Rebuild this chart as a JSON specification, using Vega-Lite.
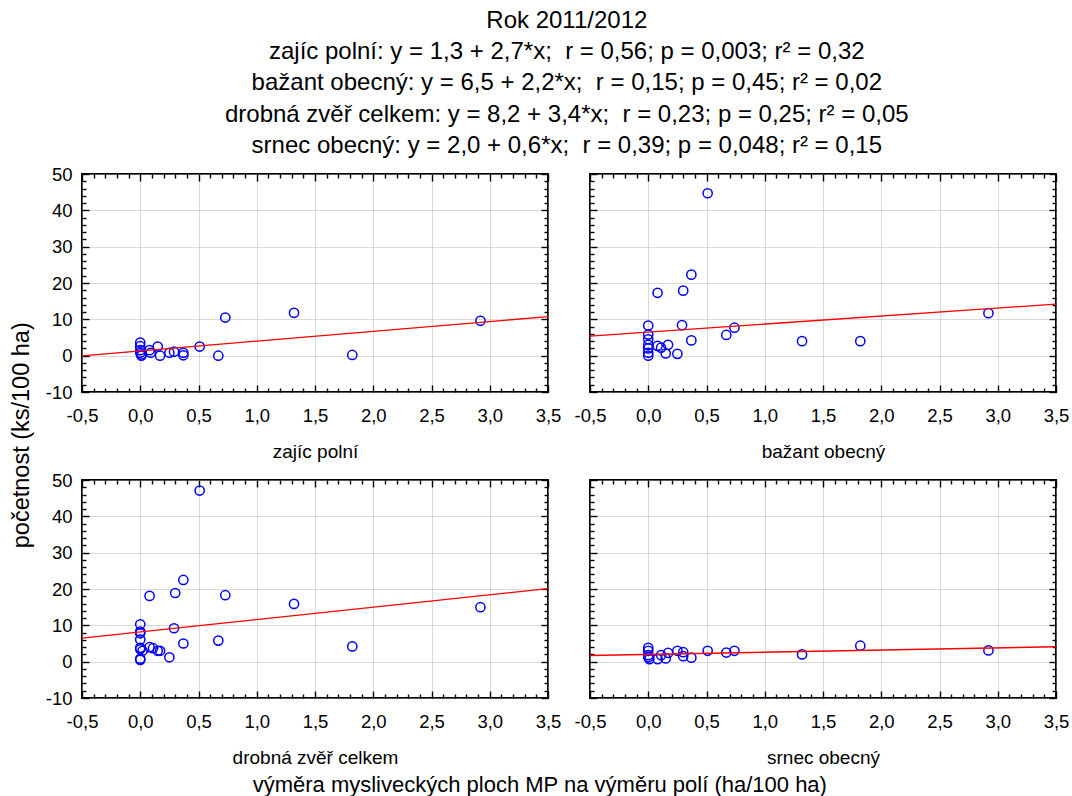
{
  "$schema": "https://vega.github.io/schema/vega-lite/v6.json",
  "padding": {"left": 9, "top": 8, "right": 10, "bottom": 0},
  "config": {
    "font": "Liberation Sans",
    "view": {"stroke": "#000000", "strokeWidth": 2},
    "axis": {"labelFontSize": 18.5, "labelColor": "#000000", "titleFontSize": 19, "titleFontWeight": "normal", "titleColor": "#000000", "tickColor": "#000000", "tickWidth": 1.4, "domain": false, "gridColor": "#b4b4b4", "gridDash": [1, 1], "gridWidth": 1, "labelFlush": false, "labelOverlap": false, "labelFont": "Liberation Sans", "titleFont": "Liberation Sans"},
    "title": {"color": "#000000", "fontWeight": "normal", "font": "Liberation Sans"}
  },
  "datasets": {
    "pts": [
      {"panel": "zajíc polní", "x": 0, "y": 3.6}, {"panel": "zajíc polní", "x": 0, "y": 2.6}, {"panel": "zajíc polní", "x": 0, "y": 1.5}, {"panel": "zajíc polní", "x": 0, "y": 0.8}, {"panel": "zajíc polní", "x": 0.01, "y": 0.3}, {"panel": "zajíc polní", "x": 0.01, "y": 0}, {"panel": "zajíc polní", "x": 0.08, "y": 1.5}, {"panel": "zajíc polní", "x": 0.09, "y": 0.8}, {"panel": "zajíc polní", "x": 0.15, "y": 2.5}, {"panel": "zajíc polní", "x": 0.17, "y": 0}, {"panel": "zajíc polní", "x": 0.25, "y": 0.8}, {"panel": "zajíc polní", "x": 0.29, "y": 1.1}, {"panel": "zajíc polní", "x": 0.37, "y": 0.8}, {"panel": "zajíc polní", "x": 0.37, "y": 0.1}, {"panel": "zajíc polní", "x": 0.51, "y": 2.5}, {"panel": "zajíc polní", "x": 0.67, "y": 0}, {"panel": "zajíc polní", "x": 0.73, "y": 10.5}, {"panel": "zajíc polní", "x": 1.32, "y": 11.8}, {"panel": "zajíc polní", "x": 1.82, "y": 0.2}, {"panel": "zajíc polní", "x": 2.92, "y": 9.6},
      {"panel": "bažant obecný", "x": 0.51, "y": 44.7}, {"panel": "bažant obecný", "x": 0.37, "y": 22.3}, {"panel": "bažant obecný", "x": 0.3, "y": 17.9}, {"panel": "bažant obecný", "x": 0.08, "y": 17.3}, {"panel": "bažant obecný", "x": 0, "y": 8.3}, {"panel": "bažant obecný", "x": 0.29, "y": 8.4}, {"panel": "bažant obecný", "x": 0, "y": 5.8}, {"panel": "bažant obecný", "x": 0, "y": 4.5}, {"panel": "bažant obecný", "x": 0, "y": 3.0}, {"panel": "bažant obecný", "x": 0, "y": 2.0}, {"panel": "bažant obecný", "x": 0, "y": 0.8}, {"panel": "bažant obecný", "x": 0, "y": 0}, {"panel": "bažant obecný", "x": 0.08, "y": 2.7}, {"panel": "bažant obecný", "x": 0.11, "y": 2.2}, {"panel": "bažant obecný", "x": 0.17, "y": 3.0}, {"panel": "bažant obecný", "x": 0.15, "y": 0.6}, {"panel": "bažant obecný", "x": 0.25, "y": 0.5}, {"panel": "bažant obecný", "x": 0.37, "y": 4.2}, {"panel": "bažant obecný", "x": 0.67, "y": 5.7}, {"panel": "bažant obecný", "x": 0.74, "y": 7.7}, {"panel": "bažant obecný", "x": 1.32, "y": 4.0}, {"panel": "bažant obecný", "x": 1.82, "y": 4.0}, {"panel": "bažant obecný", "x": 2.92, "y": 11.7},
      {"panel": "drobná zvěř celkem", "x": 0.51, "y": 47.1}, {"panel": "drobná zvěř celkem", "x": 0.37, "y": 22.5}, {"panel": "drobná zvěř celkem", "x": 0.3, "y": 18.9}, {"panel": "drobná zvěř celkem", "x": 0.08, "y": 18.1}, {"panel": "drobná zvěř celkem", "x": 0.73, "y": 18.3}, {"panel": "drobná zvěř celkem", "x": 1.32, "y": 15.9}, {"panel": "drobná zvěř celkem", "x": 2.92, "y": 15.0}, {"panel": "drobná zvěř celkem", "x": 0, "y": 10.3}, {"panel": "drobná zvěř celkem", "x": 0, "y": 8.3}, {"panel": "drobná zvěř celkem", "x": 0, "y": 7.8}, {"panel": "drobná zvěř celkem", "x": 0, "y": 6.1}, {"panel": "drobná zvěř celkem", "x": 0, "y": 3.8}, {"panel": "drobná zvěř celkem", "x": 0, "y": 3.4}, {"panel": "drobná zvěř celkem", "x": 0.02, "y": 3.0}, {"panel": "drobná zvěř celkem", "x": 0, "y": 0.8}, {"panel": "drobná zvěř celkem", "x": 0, "y": 0.5}, {"panel": "drobná zvěř celkem", "x": 0.29, "y": 9.2}, {"panel": "drobná zvěř celkem", "x": 0.37, "y": 5.0}, {"panel": "drobná zvěř celkem", "x": 0.67, "y": 5.8}, {"panel": "drobná zvěř celkem", "x": 1.82, "y": 4.2}, {"panel": "drobná zvěř celkem", "x": 0.08, "y": 4.0}, {"panel": "drobná zvěř celkem", "x": 0.11, "y": 3.7}, {"panel": "drobná zvěř celkem", "x": 0.15, "y": 3.0}, {"panel": "drobná zvěř celkem", "x": 0.17, "y": 3.0}, {"panel": "drobná zvěř celkem", "x": 0.25, "y": 1.2},
      {"panel": "srnec obecný", "x": 0, "y": 3.8}, {"panel": "srnec obecný", "x": 0, "y": 3.0}, {"panel": "srnec obecný", "x": 0, "y": 1.8}, {"panel": "srnec obecný", "x": 0, "y": 1.2}, {"panel": "srnec obecný", "x": 0.01, "y": 0.7}, {"panel": "srnec obecný", "x": 0.08, "y": 0.7}, {"panel": "srnec obecný", "x": 0.11, "y": 1.8}, {"panel": "srnec obecný", "x": 0.15, "y": 0.9}, {"panel": "srnec obecný", "x": 0.17, "y": 2.4}, {"panel": "srnec obecný", "x": 0.25, "y": 3.0}, {"panel": "srnec obecný", "x": 0.3, "y": 2.6}, {"panel": "srnec obecný", "x": 0.3, "y": 1.5}, {"panel": "srnec obecný", "x": 0.37, "y": 1.1}, {"panel": "srnec obecný", "x": 0.51, "y": 3.0}, {"panel": "srnec obecný", "x": 0.67, "y": 2.5}, {"panel": "srnec obecný", "x": 0.74, "y": 3.0}, {"panel": "srnec obecný", "x": 1.32, "y": 2.0}, {"panel": "srnec obecný", "x": 1.82, "y": 4.4}, {"panel": "srnec obecný", "x": 2.92, "y": 3.1}
    ],
    "fit": [
      {"panel": "zajíc polní", "x": -0.5, "y": -0.05}, {"panel": "zajíc polní", "x": 3.5, "y": 10.75},
      {"panel": "bažant obecný", "x": -0.5, "y": 5.4}, {"panel": "bažant obecný", "x": 3.5, "y": 14.2},
      {"panel": "drobná zvěř celkem", "x": -0.5, "y": 6.5}, {"panel": "drobná zvěř celkem", "x": 3.5, "y": 20.1},
      {"panel": "srnec obecný", "x": -0.5, "y": 1.7}, {"panel": "srnec obecný", "x": 3.5, "y": 4.1}
    ]
  },
  "title": {
    "text": ["Rok 2011/2012", "zajíc polní: y = 1,3 + 2,7*x;\u00a0 r = 0,56; p = 0,003; r² = 0,32", "bažant obecný: y = 6,5 + 2,2*x;\u00a0 r = 0,15; p = 0,45; r² = 0,02", "drobná zvěř celkem: y = 8,2 + 3,4*x;\u00a0 r = 0,23; p = 0,25; r² = 0,05", "srnec obecný: y = 2,0 + 0,6*x;\u00a0 r = 0,39; p = 0,048; r² = 0,15"],
    "fontSize": 24, "lineHeight": 31.3, "anchor": "middle", "offset": 6, "dx": 27
  },
  "vconcat": [
    {
      "title": {"text": "výměra mysliveckých ploch MP na výměru polí (ha/100 ha)", "orient": "bottom", "anchor": "middle", "fontSize": 22, "offset": 6},
      "vconcat": [
        {
          "title": {"text": "početnost (ks/100 ha)", "orient": "left", "anchor": "middle", "fontSize": 23.5, "offset": 11, "dx": 31},
          "bounds": "flush",
          "columns": 2,
          "spacing": {"row": 88, "column": 42},
          "concat": [
            {
              "width": 466, "height": 218,
              "resolve": {"axis": {"x": "independent", "y": "independent"}},
              "layer": [
                {
                  "data": {"name": "pts"},
                  "transform": [{"filter": "datum.panel === 'zajíc polní'"}],
                  "mark": {"type": "point", "shape": "circle", "filled": false, "color": "#0000ff", "strokeWidth": 1.5, "size": 85, "opacity": 1},
                  "encoding": {
                    "x": {"field": "x", "type": "quantitative", "scale": {"domain": [-0.5, 3.5], "nice": false, "zero": false},
                      "axis": {"orient": "bottom", "values": [-0.5,-0.4,-0.3,-0.2,-0.1,0,0.1,0.2,0.3,0.4,0.5,0.6,0.7,0.8,0.9,1,1.1,1.2,1.3,1.4,1.5,1.6,1.7,1.8,1.9,2,2.1,2.2,2.3,2.4,2.5,2.6,2.7,2.8,2.9,3,3.1,3.2,3.3,3.4,3.5], "title": "zajíc polní", "titlePadding": 15, "labelPadding": 21,
                        "labelExpr": "abs(datum.value*2-round(datum.value*2))<0.01 ? replace(replace(format(datum.value,'.1f'),'.',','),'−','-') : ''",
                        "grid": true, "gridOpacity": {"condition": {"test": "abs(datum.value*2-round(datum.value*2))<0.01", "value": 1}, "value": 0},
                        "tickSize": {"condition": {"test": "abs(datum.value*2-round(datum.value*2))<0.01", "value": -7}, "value": -4}}},
                    "y": {"field": "y", "type": "quantitative", "scale": {"domain": [-10, 50], "nice": false, "zero": false},
                      "axis": {"orient": "left", "values": [-10,-8,-6,-4,-2,0,2,4,6,8,10,12,14,16,18,20,22,24,26,28,30,32,34,36,38,40,42,44,46,48,50], "title": null, "labelPadding": 17,
                        "labelExpr": "abs(datum.value/10-round(datum.value/10))<0.01 ? ''+datum.value : ''",
                        "grid": true, "gridOpacity": {"condition": {"test": "abs(datum.value/10-round(datum.value/10))<0.01", "value": 1}, "value": 0},
                        "tickSize": {"condition": {"test": "abs(datum.value/10-round(datum.value/10))<0.01", "value": -7}, "value": -4}}}
                  }
                },
                {
                  "data": {"name": "fit"},
                  "transform": [{"filter": "datum.panel === 'zajíc polní'"}],
                  "mark": {"type": "line", "color": "#ff0000", "strokeWidth": 1.3},
                  "encoding": {
                    "x": {"field": "x", "type": "quantitative", "axis": {"orient": "top", "values": [-0.5,-0.4,-0.3,-0.2,-0.1,0,0.1,0.2,0.3,0.4,0.5,0.6,0.7,0.8,0.9,1,1.1,1.2,1.3,1.4,1.5,1.6,1.7,1.8,1.9,2,2.1,2.2,2.3,2.4,2.5,2.6,2.7,2.8,2.9,3,3.1,3.2,3.3,3.4,3.5], "title": null, "labels": false, "grid": false,
                      "tickSize": {"condition": {"test": "abs(datum.value*2-round(datum.value*2))<0.01", "value": -7}, "value": -4}}},
                    "y": {"field": "y", "type": "quantitative", "axis": {"orient": "right", "values": [-10,-8,-6,-4,-2,0,2,4,6,8,10,12,14,16,18,20,22,24,26,28,30,32,34,36,38,40,42,44,46,48,50], "title": null, "labels": false, "grid": false,
                      "tickSize": {"condition": {"test": "abs(datum.value/10-round(datum.value/10))<0.01", "value": -7}, "value": -4}}}
                  }
                }
              ]
            },
            {
              "width": 466, "height": 218,
              "resolve": {"axis": {"x": "independent", "y": "independent"}},
              "layer": [
                {
                  "data": {"name": "pts"},
                  "transform": [{"filter": "datum.panel === 'bažant obecný'"}],
                  "mark": {"type": "point", "shape": "circle", "filled": false, "color": "#0000ff", "strokeWidth": 1.5, "size": 85, "opacity": 1},
                  "encoding": {
                    "x": {"field": "x", "type": "quantitative", "scale": {"domain": [-0.5, 3.5], "nice": false, "zero": false},
                      "axis": {"orient": "bottom", "values": [-0.5,-0.4,-0.3,-0.2,-0.1,0,0.1,0.2,0.3,0.4,0.5,0.6,0.7,0.8,0.9,1,1.1,1.2,1.3,1.4,1.5,1.6,1.7,1.8,1.9,2,2.1,2.2,2.3,2.4,2.5,2.6,2.7,2.8,2.9,3,3.1,3.2,3.3,3.4,3.5], "title": "bažant obecný", "titlePadding": 15, "labelPadding": 21,
                        "labelExpr": "abs(datum.value*2-round(datum.value*2))<0.01 ? replace(replace(format(datum.value,'.1f'),'.',','),'−','-') : ''",
                        "grid": true, "gridOpacity": {"condition": {"test": "abs(datum.value*2-round(datum.value*2))<0.01", "value": 1}, "value": 0},
                        "tickSize": {"condition": {"test": "abs(datum.value*2-round(datum.value*2))<0.01", "value": -7}, "value": -4}}},
                    "y": {"field": "y", "type": "quantitative", "scale": {"domain": [-10, 50], "nice": false, "zero": false},
                      "axis": {"orient": "left", "values": [-10,-8,-6,-4,-2,0,2,4,6,8,10,12,14,16,18,20,22,24,26,28,30,32,34,36,38,40,42,44,46,48,50], "title": null, "labels": false,
                        "grid": true, "gridOpacity": {"condition": {"test": "abs(datum.value/10-round(datum.value/10))<0.01", "value": 1}, "value": 0},
                        "tickSize": {"condition": {"test": "abs(datum.value/10-round(datum.value/10))<0.01", "value": -7}, "value": -4}}}
                  }
                },
                {
                  "data": {"name": "fit"},
                  "transform": [{"filter": "datum.panel === 'bažant obecný'"}],
                  "mark": {"type": "line", "color": "#ff0000", "strokeWidth": 1.3},
                  "encoding": {
                    "x": {"field": "x", "type": "quantitative", "axis": {"orient": "top", "values": [-0.5,-0.4,-0.3,-0.2,-0.1,0,0.1,0.2,0.3,0.4,0.5,0.6,0.7,0.8,0.9,1,1.1,1.2,1.3,1.4,1.5,1.6,1.7,1.8,1.9,2,2.1,2.2,2.3,2.4,2.5,2.6,2.7,2.8,2.9,3,3.1,3.2,3.3,3.4,3.5], "title": null, "labels": false, "grid": false,
                      "tickSize": {"condition": {"test": "abs(datum.value*2-round(datum.value*2))<0.01", "value": -7}, "value": -4}}},
                    "y": {"field": "y", "type": "quantitative", "axis": {"orient": "right", "values": [-10,-8,-6,-4,-2,0,2,4,6,8,10,12,14,16,18,20,22,24,26,28,30,32,34,36,38,40,42,44,46,48,50], "title": null, "labels": false, "grid": false,
                      "tickSize": {"condition": {"test": "abs(datum.value/10-round(datum.value/10))<0.01", "value": -7}, "value": -4}}}
                  }
                }
              ]
            },
            {
              "width": 466, "height": 218,
              "resolve": {"axis": {"x": "independent", "y": "independent"}},
              "layer": [
                {
                  "data": {"name": "pts"},
                  "transform": [{"filter": "datum.panel === 'drobná zvěř celkem'"}],
                  "mark": {"type": "point", "shape": "circle", "filled": false, "color": "#0000ff", "strokeWidth": 1.5, "size": 85, "opacity": 1},
                  "encoding": {
                    "x": {"field": "x", "type": "quantitative", "scale": {"domain": [-0.5, 3.5], "nice": false, "zero": false},
                      "axis": {"orient": "bottom", "values": [-0.5,-0.4,-0.3,-0.2,-0.1,0,0.1,0.2,0.3,0.4,0.5,0.6,0.7,0.8,0.9,1,1.1,1.2,1.3,1.4,1.5,1.6,1.7,1.8,1.9,2,2.1,2.2,2.3,2.4,2.5,2.6,2.7,2.8,2.9,3,3.1,3.2,3.3,3.4,3.5], "title": "drobná zvěř celkem", "titlePadding": 15, "labelPadding": 21,
                        "labelExpr": "abs(datum.value*2-round(datum.value*2))<0.01 ? replace(replace(format(datum.value,'.1f'),'.',','),'−','-') : ''",
                        "grid": true, "gridOpacity": {"condition": {"test": "abs(datum.value*2-round(datum.value*2))<0.01", "value": 1}, "value": 0},
                        "tickSize": {"condition": {"test": "abs(datum.value*2-round(datum.value*2))<0.01", "value": -7}, "value": -4}}},
                    "y": {"field": "y", "type": "quantitative", "scale": {"domain": [-10, 50], "nice": false, "zero": false},
                      "axis": {"orient": "left", "values": [-10,-8,-6,-4,-2,0,2,4,6,8,10,12,14,16,18,20,22,24,26,28,30,32,34,36,38,40,42,44,46,48,50], "title": null, "labelPadding": 17,
                        "labelExpr": "abs(datum.value/10-round(datum.value/10))<0.01 ? ''+datum.value : ''",
                        "grid": true, "gridOpacity": {"condition": {"test": "abs(datum.value/10-round(datum.value/10))<0.01", "value": 1}, "value": 0},
                        "tickSize": {"condition": {"test": "abs(datum.value/10-round(datum.value/10))<0.01", "value": -7}, "value": -4}}}
                  }
                },
                {
                  "data": {"name": "fit"},
                  "transform": [{"filter": "datum.panel === 'drobná zvěř celkem'"}],
                  "mark": {"type": "line", "color": "#ff0000", "strokeWidth": 1.3},
                  "encoding": {
                    "x": {"field": "x", "type": "quantitative", "axis": {"orient": "top", "values": [-0.5,-0.4,-0.3,-0.2,-0.1,0,0.1,0.2,0.3,0.4,0.5,0.6,0.7,0.8,0.9,1,1.1,1.2,1.3,1.4,1.5,1.6,1.7,1.8,1.9,2,2.1,2.2,2.3,2.4,2.5,2.6,2.7,2.8,2.9,3,3.1,3.2,3.3,3.4,3.5], "title": null, "labels": false, "grid": false,
                      "tickSize": {"condition": {"test": "abs(datum.value*2-round(datum.value*2))<0.01", "value": -7}, "value": -4}}},
                    "y": {"field": "y", "type": "quantitative", "axis": {"orient": "right", "values": [-10,-8,-6,-4,-2,0,2,4,6,8,10,12,14,16,18,20,22,24,26,28,30,32,34,36,38,40,42,44,46,48,50], "title": null, "labels": false, "grid": false,
                      "tickSize": {"condition": {"test": "abs(datum.value/10-round(datum.value/10))<0.01", "value": -7}, "value": -4}}}
                  }
                }
              ]
            },
            {
              "width": 466, "height": 218,
              "resolve": {"axis": {"x": "independent", "y": "independent"}},
              "layer": [
                {
                  "data": {"name": "pts"},
                  "transform": [{"filter": "datum.panel === 'srnec obecný'"}],
                  "mark": {"type": "point", "shape": "circle", "filled": false, "color": "#0000ff", "strokeWidth": 1.5, "size": 85, "opacity": 1},
                  "encoding": {
                    "x": {"field": "x", "type": "quantitative", "scale": {"domain": [-0.5, 3.5], "nice": false, "zero": false},
                      "axis": {"orient": "bottom", "values": [-0.5,-0.4,-0.3,-0.2,-0.1,0,0.1,0.2,0.3,0.4,0.5,0.6,0.7,0.8,0.9,1,1.1,1.2,1.3,1.4,1.5,1.6,1.7,1.8,1.9,2,2.1,2.2,2.3,2.4,2.5,2.6,2.7,2.8,2.9,3,3.1,3.2,3.3,3.4,3.5], "title": "srnec obecný", "titlePadding": 15, "labelPadding": 21,
                        "labelExpr": "abs(datum.value*2-round(datum.value*2))<0.01 ? replace(replace(format(datum.value,'.1f'),'.',','),'−','-') : ''",
                        "grid": true, "gridOpacity": {"condition": {"test": "abs(datum.value*2-round(datum.value*2))<0.01", "value": 1}, "value": 0},
                        "tickSize": {"condition": {"test": "abs(datum.value*2-round(datum.value*2))<0.01", "value": -7}, "value": -4}}},
                    "y": {"field": "y", "type": "quantitative", "scale": {"domain": [-10, 50], "nice": false, "zero": false},
                      "axis": {"orient": "left", "values": [-10,-8,-6,-4,-2,0,2,4,6,8,10,12,14,16,18,20,22,24,26,28,30,32,34,36,38,40,42,44,46,48,50], "title": null, "labels": false,
                        "grid": true, "gridOpacity": {"condition": {"test": "abs(datum.value/10-round(datum.value/10))<0.01", "value": 1}, "value": 0},
                        "tickSize": {"condition": {"test": "abs(datum.value/10-round(datum.value/10))<0.01", "value": -7}, "value": -4}}}
                  }
                },
                {
                  "data": {"name": "fit"},
                  "transform": [{"filter": "datum.panel === 'srnec obecný'"}],
                  "mark": {"type": "line", "color": "#ff0000", "strokeWidth": 1.3},
                  "encoding": {
                    "x": {"field": "x", "type": "quantitative", "axis": {"orient": "top", "values": [-0.5,-0.4,-0.3,-0.2,-0.1,0,0.1,0.2,0.3,0.4,0.5,0.6,0.7,0.8,0.9,1,1.1,1.2,1.3,1.4,1.5,1.6,1.7,1.8,1.9,2,2.1,2.2,2.3,2.4,2.5,2.6,2.7,2.8,2.9,3,3.1,3.2,3.3,3.4,3.5], "title": null, "labels": false, "grid": false,
                      "tickSize": {"condition": {"test": "abs(datum.value*2-round(datum.value*2))<0.01", "value": -7}, "value": -4}}},
                    "y": {"field": "y", "type": "quantitative", "axis": {"orient": "right", "values": [-10,-8,-6,-4,-2,0,2,4,6,8,10,12,14,16,18,20,22,24,26,28,30,32,34,36,38,40,42,44,46,48,50], "title": null, "labels": false, "grid": false,
                      "tickSize": {"condition": {"test": "abs(datum.value/10-round(datum.value/10))<0.01", "value": -7}, "value": -4}}}
                  }
                }
              ]
            }
          ]
        }
      ]
    }
  ]
}
